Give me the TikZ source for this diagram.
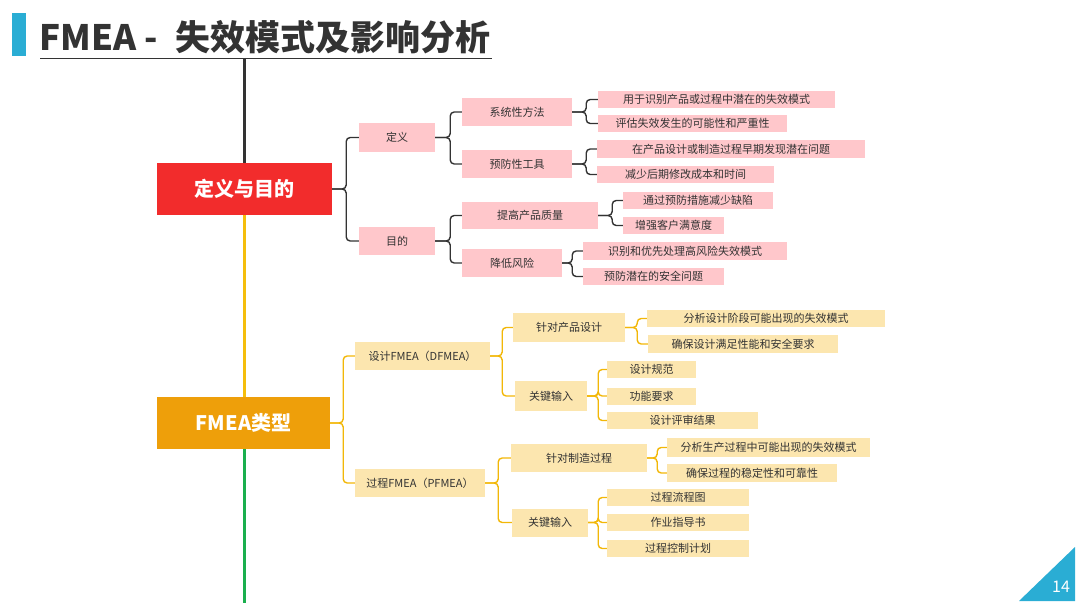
\documentclass[tikz,border=0pt]{standalone}
\usepackage{fontspec}
\setmainfont{Noto Sans CJK SC}
\definecolor{pinkc}{HTML}{FFC7CB}
\definecolor{yelc}{HTML}{FCE6AF}
\definecolor{redc}{HTML}{F22C2C}
\definecolor{orc}{HTML}{EE9F0A}
\definecolor{greenl}{HTML}{1AAF4E}
\definecolor{yell}{HTML}{F5BE0C}
\definecolor{conl}{HTML}{F2B708}
\definecolor{dk}{HTML}{333333}
\definecolor{bluec}{HTML}{2AADD4}
\tikzset{
  pbox/.style={fill=pinkc, inner sep=0pt, text=dk, font=\fontsize{11}{11}\selectfont},
  ybox/.style={fill=yelc, inner sep=0pt, text=dk, font=\fontsize{11}{11}\selectfont},
  mainbox/.style={inner sep=0pt, text=white, font=\fontsize{20}{20}\selectfont\bfseries, minimum width=175pt, minimum height=52pt},
  dline/.style={draw=dk, line width=1.4pt, rounded corners=4pt},
  yline/.style={draw=conl, line width=1.4pt, rounded corners=4pt},
}
\begin{document}
\begin{tikzpicture}[x=1pt,y=-1pt]
\useasboundingbox (0,0) rectangle (1080,607);
% title
\fill[bluec] (12,13) rectangle (26,56);
\node[anchor=base west, inner sep=0pt, text=dk, font=\fontsize{35}{35}\selectfont\bfseries] (title) at (39,51) {FMEA\hspace{8pt}-\hspace{18pt}失效模式及影响分析};
\draw[dk, line width=1.6pt] (40,58.5) -- (492,58.5);
% spine
\coordinate (top) at (244,58);
\coordinate (bot) at (244,603);
% main boxes
\node[mainbox, fill=redc] (red) at (244.5,189) {定义与目的};
\node[mainbox, fill=orc, minimum width=173pt] (org) at (243.5,423) {FMEA类型};
\draw[dk, line width=3pt] (top) -- (red.north -| top);
\draw[yell, line width=3pt] (red.south -| top) -- (org.north -| top);
\draw[greenl, line width=3pt] (org.south -| top) -- (bot);
% top level 2
\node[pbox, minimum width=76pt, minimum height=29pt] (def) at (397,137.5) {定义};
\node[pbox, minimum width=76pt, minimum height=28pt] (pur) at (397,241) {目的};
% top level 3
\node[pbox, minimum width=110pt, minimum height=28pt] (sys) at (517,112) {系统性方法};
\node[pbox, minimum width=110pt, minimum height=28pt] (prev) at (517,164) {预防性工具};
\node[pbox, minimum width=136pt, minimum height=27pt] (qual) at (530,215.5) {提高产品质量};
\node[pbox, minimum width=100pt, minimum height=28pt] (risk) at (512,263) {降低风险};
% top level 4
\node[pbox, minimum width=237pt, minimum height=17pt] (a1) at (716.5,99.5) {用于识别产品或过程中潜在的失效模式};
\node[pbox, minimum width=189pt, minimum height=17pt] (a2) at (692.5,123.5) {评估失效发生的可能性和严重性};
\node[pbox, minimum width=268pt, minimum height=18pt] (b1) at (731,149) {在产品设计或制造过程早期发现潜在问题};
\node[pbox, minimum width=177pt, minimum height=17pt] (b2) at (685.5,174.5) {减少后期修改成本和时间};
\node[pbox, minimum width=150pt, minimum height=17pt] (c1) at (698,200.5) {通过预防措施减少缺陷};
\node[pbox, minimum width=101pt, minimum height=17pt] (c2) at (673.5,225.5) {增强客户满意度};
\node[pbox, minimum width=204pt, minimum height=18pt] (d1) at (685,251) {识别和优先处理高风险失效模式};
\node[pbox, minimum width=141pt, minimum height=17pt] (d2) at (653.5,276.5) {预防潜在的安全问题};
% top connectors
\foreach \c in {def,pur} \draw[dline] (red.east) -- ++(14,0) |- (\c.west);
\foreach \c in {sys,prev} \draw[dline] (def.east) -- ++(15,0) |- (\c.west);
\foreach \c in {qual,risk} \draw[dline] (pur.east) -- ++(15,0) |- (\c.west);
\foreach \c in {a1,a2} \draw[dline] (sys.east) -- ++(14,0) |- (\c.west);
\foreach \c in {b1,b2} \draw[dline] (prev.east) -- ++(14,0) |- (\c.west);
\foreach \c in {c1,c2} \draw[dline] (qual.east) -- ++(14,0) |- (\c.west);
\foreach \c in {d1,d2} \draw[dline] (risk.east) -- ++(10,0) |- (\c.west);
% bottom level 2
\node[ybox, minimum width=135pt, minimum height=28pt] (dfm) at (422.5,356) {设计FMEA（DFMEA）};
\node[ybox, minimum width=130pt, minimum height=28pt] (pfm) at (420,483) {过程FMEA（PFMEA）};
% bottom level 3
\node[ybox, minimum width=112pt, minimum height=29pt] (pd) at (569,327.5) {针对产品设计};
\node[ybox, minimum width=72pt, minimum height=30pt] (ki1) at (551,396) {关键输入};
\node[ybox, minimum width=136pt, minimum height=28pt] (mp) at (579,458) {针对制造过程};
\node[ybox, minimum width=76pt, minimum height=28pt] (ki2) at (550,522.5) {关键输入};
% bottom level 4
\node[ybox, minimum width=238pt, minimum height=17pt] (e1) at (766,318.5) {分析设计阶段可能出现的失效模式};
\node[ybox, minimum width=190pt, minimum height=18pt] (e2) at (743,344) {确保设计满足性能和安全要求};
\node[ybox, minimum width=89pt, minimum height=17pt] (f1) at (651.5,369.5) {设计规范};
\node[ybox, minimum width=89pt, minimum height=17pt] (f2) at (651.5,396) {功能要求};
\node[ybox, minimum width=151pt, minimum height=17pt] (f3) at (682.5,420.5) {设计评审结果};
\node[ybox, minimum width=203pt, minimum height=19pt] (g1) at (768.5,447.5) {分析生产过程中可能出现的失效模式};
\node[ybox, minimum width=170pt, minimum height=18pt] (g2) at (752,473) {确保过程的稳定性和可靠性};
\node[ybox, minimum width=142pt, minimum height=17pt] (h1) at (678,497.5) {过程流程图};
\node[ybox, minimum width=142pt, minimum height=17pt] (h2) at (678,522.5) {作业指导书};
\node[ybox, minimum width=142pt, minimum height=17pt] (h3) at (678,548.5) {过程控制计划};
% bottom connectors
\foreach \c in {dfm,pfm} \draw[yline] (org.east) -- ++(13,0) |- (\c.west);
\foreach \c in {pd,ki1} \draw[yline] (dfm.east) -- ++(12,0) |- (\c.west);
\foreach \c in {mp,ki2} \draw[yline] (pfm.east) -- ++(13,0) |- (\c.west);
\foreach \c in {e1,e2} \draw[yline] (pd.east) -- ++(12,0) |- (\c.west);
\foreach \c in {f1,f2,f3} \draw[yline] (ki1.east) -- ++(11,0) |- (\c.west);
\foreach \c in {g1,g2} \draw[yline] (mp.east) -- ++(10,0) |- (\c.west);
\foreach \c in {h1,h2,h3} \draw[yline] (ki2.east) -- ++(10,0) |- (\c.west);
% page number
\fill[bluec] (1019,601) -- (1075,547) -- (1075,601) -- cycle;
\node[text=white, inner sep=0pt, font=\fontsize{16}{16}\selectfont] (pg) at (1061,587) {14};
\end{tikzpicture}
\end{document}
